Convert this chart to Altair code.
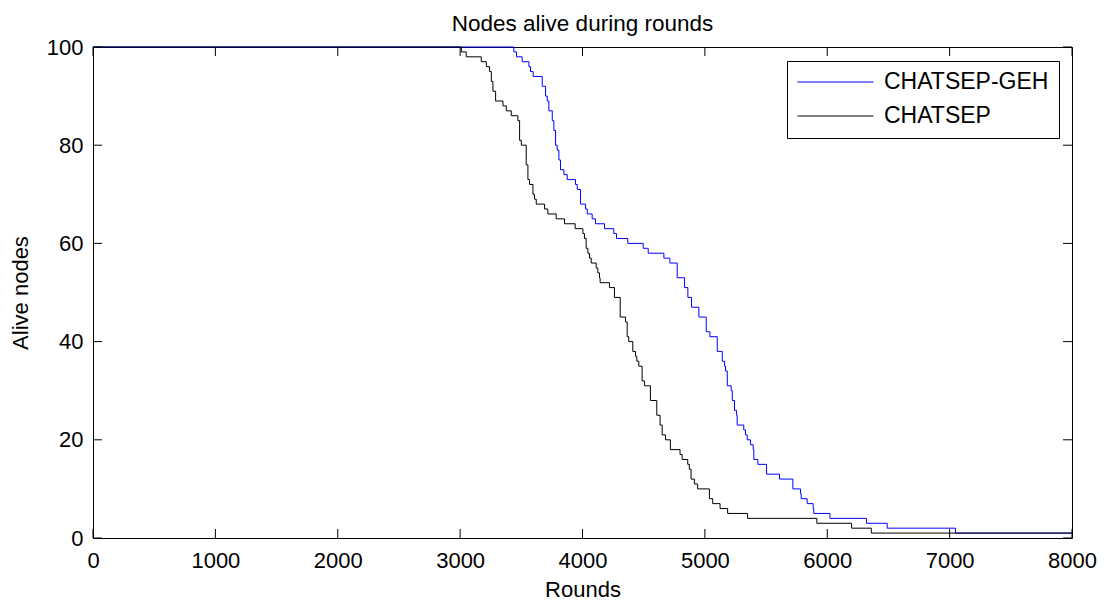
import altair as alt
import pandas as pd

series_names = ["CHATSEP-GEH", "CHATSEP"]
series_colors = ["#0000ff", "#000000"]

geh_rounds = [0, 3439, 3461, 3507, 3562, 3575, 3597, 3671, 3698, 3712, 3725, 3753, 3766, 3780,
              3793, 3807, 3820, 3848, 3875, 3943, 3957, 3984, 4025, 4039, 4079, 4106, 4180, 4256,
              4278, 4370, 4496, 4537, 4665, 4714, 4774, 4834, 4861, 4891, 4951, 5011, 5041, 5101,
              5142, 5161, 5169, 5183, 5215, 5224, 5242, 5259, 5264, 5318, 5332, 5346, 5373, 5395,
              5400, 5433, 5504, 5610, 5719, 5782, 5787, 5836, 5885, 5890, 6022, 6321, 6490, 7048, 8000]
geh_nodes = [100, 99, 98, 97, 96, 95, 94, 92, 90, 89, 87, 85, 83, 80,
             79, 77, 75, 74, 73, 72, 71, 68, 67, 66, 65, 64, 63, 62,
             61, 60, 59, 58, 57, 56, 53, 51, 49, 47, 45, 42, 41, 38,
             36, 35, 34, 31, 30, 28, 26, 25, 23, 22, 21, 20, 19, 18,
             16, 15, 13, 12, 10, 9, 8, 7, 6, 5, 4, 3, 2, 1, 1]

sep_rounds = [0, 3010, 3050, 3173, 3214, 3241, 3255, 3268, 3290, 3350, 3377, 3418, 3472, 3486,
              3500, 3540, 3554, 3567, 3595, 3608, 3622, 3690, 3717, 3785, 3853, 3940, 4003, 4016,
              4030, 4044, 4057, 4071, 4112, 4125, 4139, 4144, 4220, 4261, 4308, 4351, 4365, 4378,
              4411, 4433, 4444, 4460, 4487, 4506, 4555, 4607, 4634, 4651, 4678, 4718, 4797, 4814,
              4860, 4873, 4887, 4914, 4941, 5037, 5064, 5124, 5186, 5349, 5915, 6199, 6360, 8000]
sep_nodes = [100, 99, 98, 97, 96, 95, 93, 91, 89, 88, 87, 86, 85, 81,
             80, 76, 73, 72, 70, 69, 68, 67, 66, 65, 64, 63, 62, 61,
             59, 58, 57, 56, 55, 54, 53, 52, 51, 49, 45, 44, 41, 40,
             38, 37, 36, 35, 32, 31, 28, 25, 23, 21, 20, 18, 17, 16,
             15, 14, 12, 11, 10, 8, 7, 6, 5, 4, 3, 2, 1, 1]

x_ticks = [0, 1000, 2000, 3000, 4000, 5000, 6000, 7000, 8000]
y_ticks = [0, 20, 40, 60, 80, 100]

FONT = "Liberation Sans"
FS = 22
W, H = 979, 491
TICK = 9

df = pd.concat([
    pd.DataFrame({"series": series_names[0], "round": geh_rounds, "nodes": geh_nodes, "order": range(len(geh_rounds))}),
    pd.DataFrame({"series": series_names[1], "round": sep_rounds, "nodes": sep_nodes, "order": range(len(sep_rounds))}),
])
xt = pd.DataFrame({"t": x_ticks})
yt = pd.DataFrame({"t": y_ticks})

xscale = alt.Scale(domain=[0, 8000], nice=False, zero=False)
yscale = alt.Scale(domain=[0, 100], nice=False, zero=False)

x_axis = alt.Axis(values=x_ticks, format="d", labelFont=FONT, labelFontSize=FS,
                  labelColor="black", ticks=False, tickSize=0, labelPadding=12,
                  domain=False, grid=False, labelFlush=False, labelOverlap=False,
                  title="Rounds", titleFont=FONT, titleFontSize=FS,
                  titleFontWeight="normal", titleColor="black",
                  titleX=W / 2, titleY=58.5, titleBaseline="alphabetic")
y_axis = alt.Axis(values=y_ticks, format="d", labelFont=FONT, labelFontSize=FS,
                  labelColor="black", ticks=False, tickSize=0, labelPadding=10,
                  domain=False, grid=False, labelFlush=False, labelOverlap=False,
                  title="Alive nodes", titleFont=FONT, titleFontSize=FS,
                  titleFontWeight="normal", titleColor="black",
                  titleX=-66, titleY=H / 2, titleBaseline="alphabetic",
                  titleAngle=270)

lines = alt.Chart(df).mark_line(interpolate="step-after", strokeWidth=1).encode(
    x=alt.X("round:Q", scale=xscale, axis=x_axis, title="Rounds"),
    y=alt.Y("nodes:Q", scale=yscale, axis=y_axis, title="Alive nodes"),
    color=alt.Color("series:N", sort=series_names,
                    scale=alt.Scale(domain=series_names, range=series_colors),
                    legend=alt.Legend(title=None, orient="none", legendX=694, legendY=14,
                                      symbolType="stroke", symbolSize=5776, clipHeight=22,
                                      symbolStrokeWidth=1, labelFont=FONT, labelFontSize=23,
                                      labelColor="black", labelOffset=10, rowPadding=11,
                                      padding=10, strokeColor="black", fillColor="white",
                                      labelLimit=400)),
    order="order:Q",
)

bottom_ticks = alt.Chart(xt).mark_rule(color="black", strokeWidth=1).encode(
    x=alt.X("t:Q", scale=xscale, axis=x_axis, title="Rounds"), y=alt.value(H), y2=alt.value(H - TICK))
top_ticks = alt.Chart(xt).mark_rule(color="black", strokeWidth=1).encode(
    x=alt.X("t:Q", scale=xscale, axis=x_axis, title="Rounds"), y=alt.value(0), y2=alt.value(TICK))
left_ticks = alt.Chart(yt).mark_rule(color="black", strokeWidth=1).encode(
    y=alt.Y("t:Q", scale=yscale, axis=y_axis, title="Alive nodes"), x=alt.value(0), x2=alt.value(TICK))
right_ticks = alt.Chart(yt).mark_rule(color="black", strokeWidth=1).encode(
    y=alt.Y("t:Q", scale=yscale, axis=y_axis, title="Alive nodes"), x=alt.value(W), x2=alt.value(W - TICK))

chart = alt.layer(lines, bottom_ticks, top_ticks, left_ticks, right_ticks).properties(
    width=W, height=H,
    title=alt.TitleParams("Nodes alive during rounds", font=FONT, fontSize=22.5,
                          fontWeight="normal", color="black", offset=1),
    autosize=alt.AutoSizeParams(type="none"),
    padding={"left": 85, "top": 39, "right": 30, "bottom": 64},
).configure_view(stroke="black", strokeWidth=1)

chart.save("out.html", embed_options={"renderer": "svg", "actions": False})
